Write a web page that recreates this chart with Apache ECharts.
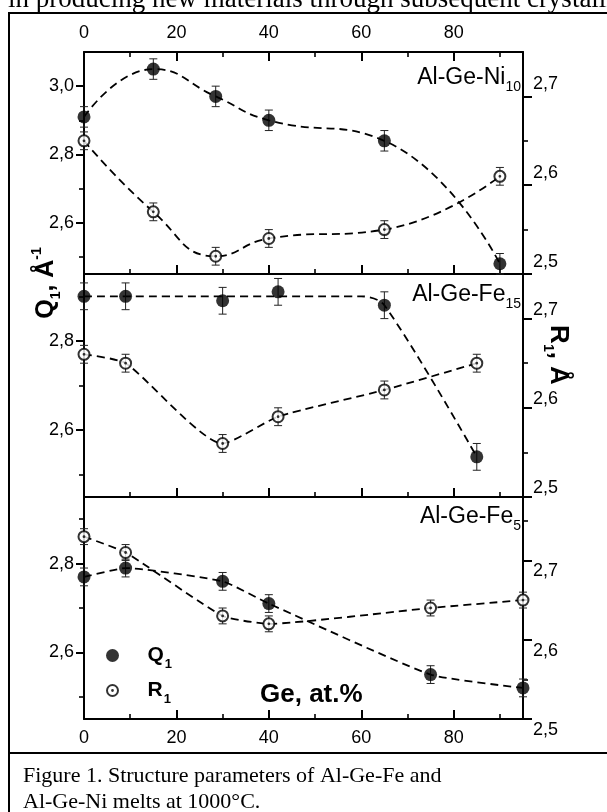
<!DOCTYPE html>
<html>
<head>
<meta charset="utf-8">
<script src="https://cdn.jsdelivr.net/npm/echarts@6/dist/echarts.min.js"></script>
<style>
  html, body { margin: 0; padding: 0; background: #fff; }
  #chart { width: 607px; height: 812px; }
</style>
</head>
<body>
<div id="chart"></div>
<script>
const SANS = '"Liberation Sans", Arial, Helvetica, sans-serif';
const SERIF = '"Liberation Serif", "Times New Roman", serif';

// Ge content axis (at.%)
const geMajorTicks = [0, 20, 40, 60, 80];
const geMinorTicks = [10, 30, 50, 70, 90];

// Al-Ge-Ni10 melts
const geNi10 = [0, 15, 28.5, 40, 65, 90];
const q1Ni10 = [2.91, 3.05, 2.97, 2.90, 2.84, 2.48];
const q1ErrNi10 = [0.03, 0.03, 0.03, 0.03, 0.03, 0.03];
const r1Ni10 = [2.65, 2.57, 2.52, 2.54, 2.55, 2.61];
const r1ErrNi10 = [0.01, 0.01, 0.01, 0.01, 0.01, 0.01];

// Al-Ge-Fe15 melts
const geFe15 = [0, 9, 30, 42, 65, 85];
const q1Fe15 = [2.90, 2.90, 2.89, 2.91, 2.88, 2.54];
const q1ErrFe15 = [0.03, 0.03, 0.03, 0.03, 0.03, 0.03];
const r1Fe15 = [2.66, 2.65, 2.56, 2.59, 2.62, 2.65];
const r1ErrFe15 = [0.01, 0.01, 0.01, 0.01, 0.01, 0.01];
// guide curve for Q1 of Al-Ge-Fe15
const q1GuideGeFe15 = [0, 60, 65, 85];
const q1GuideFe15 = [2.90, 2.90, 2.88, 2.54];

// Al-Ge-Fe5 melts
const geFe5 = [0, 9, 30, 40, 75, 95];
const q1Fe5 = [2.77, 2.79, 2.76, 2.71, 2.55, 2.52];
const q1ErrFe5 = [0.02, 0.02, 0.02, 0.02, 0.02, 0.02];
const r1Fe5 = [2.73, 2.71, 2.63, 2.62, 2.64, 2.65];
const r1ErrFe5 = [0.01, 0.01, 0.01, 0.01, 0.01, 0.01];

// Y tick values
const q1TicksNi10 = [2.6, 2.8, 3.0];
const q1TicksFe = [2.6, 2.8];
const q1MinorTicks = [2.5, 2.7, 2.9];
const r1Ticks = [2.5, 2.6, 2.7];
const r1MinorNi10 = [2.55, 2.65];
const r1MinorFe15 = [2.55, 2.65];
const r1MinorFe5 = [2.55, 2.65, 2.75];

const panels = [
  { main: 'Al-Ge-Ni', sub: '10', top: 52, height: 222, labelY: 78,
    ge: geNi10, q: q1Ni10, qErr: q1ErrNi10, r: r1Ni10, rErr: r1ErrNi10,
    qMin: 2.45, qMax: 3.1, rMin: 2.5, rMax: 2.75,
    qTicks: q1TicksNi10, rMinor: r1MinorNi10, rPad: [0, 0, 24, 0],
    smooth: 0.5, topAxis: true, bottomLabels: false },
  { main: 'Al-Ge-Fe', sub: '15', top: 274, height: 223, labelY: 295,
    ge: geFe15, q: q1Fe15, qErr: q1ErrFe15, r: r1Fe15, rErr: r1ErrFe15,
    guideGe: q1GuideGeFe15, guide: q1GuideFe15,
    qMin: 2.45, qMax: 2.95, rMin: 2.5, rMax: 2.75,
    qTicks: q1TicksFe, rMinor: r1MinorFe15, rPad: [0, 0, 18, 0],
    smooth: 0.2, topAxis: false, bottomLabels: false },
  { main: 'Al-Ge-Fe', sub: '5', top: 497, height: 222, labelY: 517,
    ge: geFe5, q: q1Fe5, qErr: q1ErrFe5, r: r1Fe5, rErr: r1ErrFe5,
    qMin: 2.45, qMax: 2.95, rMin: 2.5, rMax: 2.78,
    qTicks: q1TicksFe, rMinor: r1MinorFe5, rPad: [22, 0, 0, 0],
    smooth: 0.15, topAxis: false, bottomLabels: true }
];

const BLACK = '#000';
const TICK_FONT = 18;
const comma = v => v.toFixed(1).replace('.', ',');
const zip = (xs, ys) => xs.map((x, i) => [x, ys[i]]);
const zip3 = (xs, ys, es) => xs.map((x, i) => [x, ys[i], es[i]]);

const RING = 'path://M0,-6.5A6.5,6.5,0,1,1,0,6.5A6.5,6.5,0,1,1,0,-6.5Z' +
  'M0,-4.5A4.5,4.5,0,1,0,0,4.5A4.5,4.5,0,1,0,0,-4.5Z' +
  'M0,-1.4A1.4,1.4,0,1,1,0,1.4A1.4,1.4,0,1,1,0,-1.4Z';

function errorBar(params, api) {
  const x = api.value(0), y = api.value(1), e = api.value(2);
  const lo = api.coord([x, y - e]);
  const hi = api.coord([x, y + e]);
  const w = 4;
  const st = { stroke: '#222', lineWidth: 1 };
  return {
    type: 'group',
    children: [
      { type: 'line', shape: { x1: lo[0], y1: lo[1], x2: hi[0], y2: hi[1] }, style: st },
      { type: 'line', shape: { x1: lo[0] - w, y1: lo[1], x2: lo[0] + w, y2: lo[1] }, style: st },
      { type: 'line', shape: { x1: hi[0] - w, y1: hi[1], x2: hi[0] + w, y2: hi[1] }, style: st }
    ]
  };
}

const grid = [], xAxis = [], yAxis = [], series = [];

function xAx(gi, position, ticks, len, lineShow, labels) {
  xAxis.push({
    type: 'value', gridIndex: gi, position: position, min: 0, max: 95,
    axisLine: { show: lineShow, onZero: false, lineStyle: { color: BLACK, width: 2 } },
    axisTick: { show: true, inside: true, length: len, customValues: ticks,
      lineStyle: { color: BLACK, width: len > 6 ? 2 : 1.6 } },
    axisLabel: { show: labels, customValues: ticks, color: BLACK, fontSize: TICK_FONT,
      fontFamily: SANS, margin: 10 },
    splitLine: { show: false }
  });
  return xAxis.length - 1;
}

function yAx(gi, position, min, max, ticks, len, lineShow, labels, pad) {
  const label = { show: labels, customValues: ticks, color: BLACK,
    fontSize: TICK_FONT, fontFamily: SANS, margin: 10 };
  if (pad) {
    // labels of the R1 scale sit slightly off their ticks
    label.formatter = v => '{t|' + comma(v) + '}';
    label.rich = { t: { fontSize: TICK_FONT, fontFamily: SANS, color: BLACK, padding: pad } };
  } else {
    label.formatter = comma;
  }
  yAxis.push({
    type: 'value', gridIndex: gi, position: position, min: min, max: max,
    axisLine: { show: lineShow, onZero: false, lineStyle: { color: BLACK, width: 2 } },
    axisTick: { show: true, inside: false, length: len, customValues: ticks,
      lineStyle: { color: BLACK, width: len > 6 ? 2 : 1.6 } },
    axisLabel: label,
    splitLine: { show: false }
  });
  return yAxis.length - 1;
}

panels.forEach((p, gi) => {
  grid.push({ left: 84, right: 84, top: p.top, height: p.height });
  const xi = xAx(gi, 'bottom', geMajorTicks, 9, true, p.bottomLabels);
  xAx(gi, 'bottom', geMinorTicks, 5, false, false);
  if (p.topAxis) {
    xAx(gi, 'top', geMajorTicks, 9, true, true);
    xAx(gi, 'top', geMinorTicks, 5, false, false);
  }
  const yq = yAx(gi, 'left', p.qMin, p.qMax, p.qTicks, 8, true, true);
  yAx(gi, 'left', p.qMin, p.qMax, q1MinorTicks, 5, false, false);
  const yr = yAx(gi, 'right', p.rMin, p.rMax, r1Ticks, 9, true, true, p.rPad);
  yAx(gi, 'right', p.rMin, p.rMax, p.rMinor, 5, false, false);

  const dash = { color: BLACK, width: 1.8, type: [8, 5] };
  const qLine = p.guide ? zip(p.guideGe, p.guide) : zip(p.ge, p.q);
  series.push(
    { type: 'line', xAxisIndex: xi, yAxisIndex: yq, data: qLine, smooth: p.guide ? 0.3 : p.smooth,
      showSymbol: false, lineStyle: dash, silent: true, clip: false, z: 2 },
    { type: 'line', xAxisIndex: xi, yAxisIndex: yr, data: zip(p.ge, p.r), smooth: p.smooth,
      showSymbol: false, lineStyle: dash, silent: true, clip: false, z: 2 },
    { type: 'custom', xAxisIndex: xi, yAxisIndex: yq, data: zip3(p.ge, p.q, p.qErr),
      renderItem: errorBar, encode: { x: 0, y: 1 }, silent: true, clip: false, z: 3 },
    { type: 'custom', xAxisIndex: xi, yAxisIndex: yr, data: zip3(p.ge, p.r, p.rErr),
      renderItem: errorBar, encode: { x: 0, y: 1 }, silent: true, clip: false, z: 3 },
    { type: 'scatter', name: 'Q1', xAxisIndex: xi, yAxisIndex: yq, data: zip(p.ge, p.q),
      symbol: 'circle', symbolSize: 13, itemStyle: { color: BLACK }, clip: false, z: 5, silent: true },
    { type: 'scatter', xAxisIndex: xi, yAxisIndex: yr, data: zip(p.ge, p.r),
      symbol: 'circle', symbolSize: 11, itemStyle: { color: '#fff' }, clip: false, z: 4, silent: true },
    { type: 'scatter', name: 'R1', xAxisIndex: xi, yAxisIndex: yr, data: zip(p.ge, p.r),
      symbol: RING, symbolSize: 13, symbolKeepAspect: true, itemStyle: { color: BLACK },
      clip: false, z: 5, silent: true }
  );
});

const legendText = {
  rich: {
    m: { fontFamily: SANS, fontSize: 21, fontWeight: 'bold', color: BLACK },
    s: { fontFamily: SANS, fontSize: 13, fontWeight: 'bold', color: BLACK, padding: [18, 0, 0, 1] }
  }
};
const legendFmt = name => '{m|' + name.charAt(0) + '}{s|' + name.slice(1) + '}';
const legendBase = {
  orient: 'vertical', left: 106, padding: 0, itemWidth: 60, itemHeight: 13,
  selectedMode: false, formatter: legendFmt, textStyle: legendText
};

const subRich = (size, subSize, drop) => ({
  m: { fontFamily: SANS, fontSize: size, fill: BLACK },
  s: { fontFamily: SANS, fontSize: subSize, fill: BLACK, padding: [drop, 0, 0, 0] }
});

const graphic = [
  { type: 'rect', shape: { x: 9, y: 13, width: 640, height: 840 },
    style: { fill: 'none', stroke: BLACK, lineWidth: 2 }, silent: true },
  { type: 'line', shape: { x1: 9, y1: 753, x2: 607, y2: 753 },
    style: { stroke: BLACK, lineWidth: 2 }, silent: true },
  { type: 'text', x: 8, y: 13, silent: true,
    style: { text: 'in producing new materials through subsequent crystallization', font: '27px ' + SERIF,
      fill: BLACK, align: 'left', verticalAlign: 'bottom' } },
  { type: 'text', x: 23, y: 776, silent: true,
    style: { text: 'Figure 1. Structure parameters of Al-Ge-Fe and', font: '22px ' + SERIF,
      fill: BLACK, align: 'left', verticalAlign: 'middle' } },
  { type: 'text', x: 23, y: 802, silent: true,
    style: { text: 'Al-Ge-Ni melts at 1000°C.', font: '22px ' + SERIF,
      fill: BLACK, align: 'left', verticalAlign: 'middle' } },
  // left axis title
  { type: 'text', x: 46, y: 283, rotation: Math.PI / 2, silent: true,
    style: { text: '{m|Q}{s|1}{m|, Å}{p|-1}', align: 'center', verticalAlign: 'middle',
      rich: {
        m: { fontFamily: SANS, fontSize: 25, fontWeight: 'bold', fill: BLACK },
        s: { fontFamily: SANS, fontSize: 14, fontWeight: 'bold', fill: BLACK, padding: [20, 0, 0, 0] },
        p: { fontFamily: SANS, fontSize: 14, fontWeight: 'bold', fill: BLACK, padding: [0, 0, 18, 0] }
      } } },
  // right axis title
  { type: 'text', x: 558, y: 355, rotation: -Math.PI / 2, silent: true,
    style: { text: '{m|R}{s|1}{m|, Å}', align: 'center', verticalAlign: 'middle',
      rich: {
        m: { fontFamily: SANS, fontSize: 26, fontWeight: 'bold', fill: BLACK },
        s: { fontFamily: SANS, fontSize: 14, fontWeight: 'bold', fill: BLACK, padding: [20, 0, 0, 0] }
      } } },
  { type: 'text', x: 260, y: 695, silent: true,
    style: { text: 'Ge, at.%', font: 'bold 26px ' + SANS, fill: BLACK,
      align: 'left', verticalAlign: 'middle' } }
];
panels.forEach(p => {
  graphic.push({ type: 'text', x: 521, y: p.labelY, silent: true,
    style: { text: '{m|' + p.main + '}{s|' + p.sub + '}', align: 'right', verticalAlign: 'middle',
      rich: subRich(23, 14, 18) } });
});

const chart = echarts.init(document.getElementById('chart'), null, { renderer: 'canvas' });
chart.setOption({
  animation: false,
  backgroundColor: '#fff',
  grid: grid,
  xAxis: xAxis,
  yAxis: yAxis,
  series: series,
  legend: [
    Object.assign({}, legendBase, { data: ['Q1'], top: 645 }),
    Object.assign({}, legendBase, { data: ['R1'], top: 680 })
  ],
  graphic: graphic
});
</script>
</body>
</html>
